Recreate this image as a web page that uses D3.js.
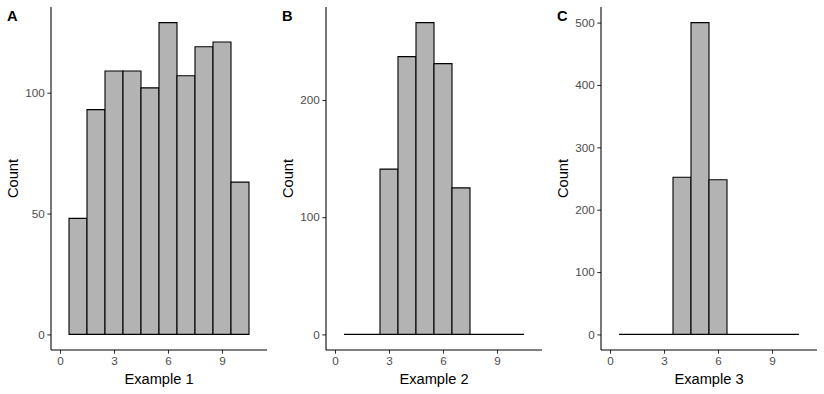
<!DOCTYPE html>
<html>
<head>
<meta charset="utf-8">
<script src="https://cdn.jsdelivr.net/npm/d3@7"></script>
<style>
  body { margin: 0; background: #fff; }
  svg { display: block; font-family: "Liberation Sans", Arial, sans-serif; }
</style>
</head>
<body>
<div class="chart"></div>
<script>
// histogram data (bins of width 1, centred on 1..10)
var binCenters = [1, 2, 3, 4, 5, 6, 7, 8, 9, 10];
var countsA = [48, 93, 109, 109, 102, 129, 107, 119, 121, 63];
var countsB = [0, 0, 141, 237, 266, 231, 125, 0, 0, 0];
var countsC = [0, 0, 0, 252, 500, 248, 0, 0, 0, 0];
var panelLetters = ["A", "B", "C"];
var xTitles = ["Example 1", "Example 2", "Example 3"];
var xTicks = [0, 3, 6, 9];
var yTicksA = [0, 50, 100];
var yTicksB = [0, 100, 200];
var yTicksC = [0, 100, 200, 300, 400, 500];

var svgWidth = 824;
var svgHeight = 394;

var svg = d3.select(".chart")
  .append("svg")
  .attr("width", svgWidth)
  .attr("height", svgHeight);

var panels = [
  {counts: countsA, yTicks: yTicksA},
  {counts: countsB, yTicks: yTicksB},
  {counts: countsC, yTicks: yTicksC}
];

var panelW = 216;
var plotTop = 7, plotBottom = 350;

panels.forEach(function(p, i) {
  var left = 51 + i * 275;
  var g = svg.append("g");

  var x = d3.scaleLinear().domain([-0.5, 11.5]).range([left, left + panelW]);
  var maxC = d3.max(p.counts);
  var y = d3.scaleLinear().domain([-0.05 * maxC, maxC * 1.05]).range([plotBottom, plotTop]);

  // bars (paths so zero bins still show as a line)
  g.selectAll("path.bar")
    .data(binCenters)
    .enter().append("path")
    .attr("class", "bar")
    .attr("d", function(c, j) {
      var x0 = x(c - 0.5), x1 = x(c + 0.5);
      var y0 = y(0), y1 = y(p.counts[j]);
      return "M" + x0 + "," + y0 + "V" + y1 + "H" + x1 + "V" + y0 + "Z";
    })
    .attr("fill", "#B3B3B3")
    .attr("stroke", "#000")
    .attr("stroke-width", 1.1);

  // axes
  var xAxis = d3.axisBottom(x).tickValues(xTicks).tickSize(3.7).tickPadding(2.5);
  var yAxis = d3.axisLeft(y).tickValues(p.yTicks).tickSize(3.7).tickPadding(2.5);

  var gx = g.append("g").attr("transform", "translate(0," + plotBottom + ")").call(xAxis);
  var gy = g.append("g").attr("transform", "translate(" + left + ",0)").call(yAxis);

  [gx, gy].forEach(function(a) {
    a.select(".domain").remove();
    a.selectAll(".tick line").attr("stroke", "#333").attr("stroke-width", 1.07);
    a.selectAll(".tick text")
      .attr("fill", "#4D4D4D")
      .style("font-size", "11.7px")
      .style("font-family", "'Liberation Sans', Arial, sans-serif");
  });

  g.append("line")
    .attr("x1", left).attr("x2", left + panelW)
    .attr("y1", plotBottom).attr("y2", plotBottom)
    .attr("stroke", "#000").attr("stroke-width", 1.07);
  g.append("line")
    .attr("x1", left).attr("x2", left)
    .attr("y1", plotTop).attr("y2", plotBottom)
    .attr("stroke", "#000").attr("stroke-width", 1.07);

  // titles
  g.append("text")
    .attr("x", left + panelW / 2)
    .attr("y", 384)
    .attr("text-anchor", "middle")
    .style("font-size", "14.67px")
    .text(xTitles[i]);

  g.append("text")
    .attr("transform", "translate(" + (left - 33) + "," + ((plotTop + plotBottom) / 2) + ") rotate(-90)")
    .attr("text-anchor", "middle")
    .style("font-size", "14.67px")
    .text("Count");

  g.append("text")
    .attr("x", 7 + i * 275)
    .attr("y", 21)
    .style("font-size", "14.67px")
    .style("font-weight", "bold")
    .text(panelLetters[i]);
});
</script>
</body>
</html>
